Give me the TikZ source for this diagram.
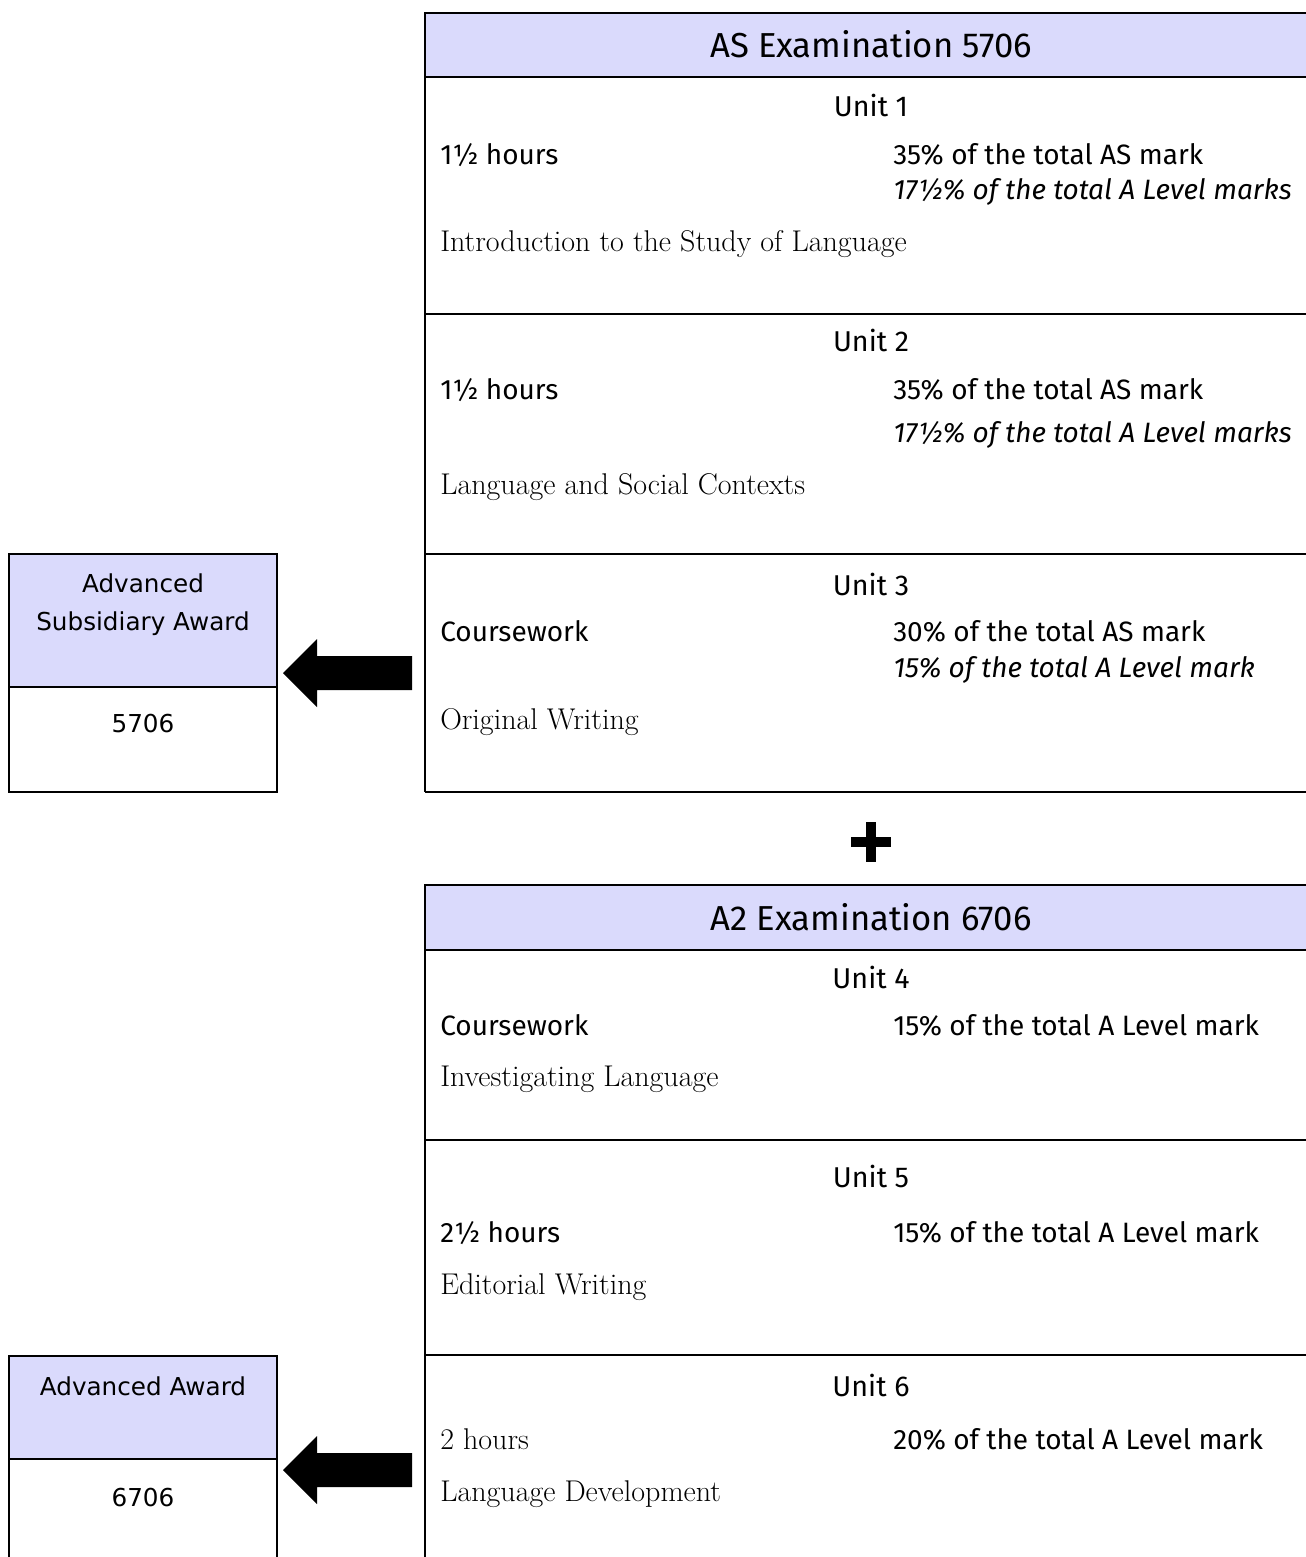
\documentclass[tikz,border=0pt]{standalone}
\usepackage{fontspec}
\setsansfont{Fira Sans}
\newfontfamily\awardfont{DejaVu Sans}
\definecolor{headblue}{RGB}{218,218,252}
\tikzset{
	rulebar/.style={line width=1.5pt},
	headtext/.style={font=\sffamily\fontsize{26}{30}\selectfont, anchor=base, inner sep=0pt},
	unitname/.style={font=\sffamily\fontsize{21.5}{25}\selectfont, anchor=base, inner sep=0pt},
	infotext/.style={font=\sffamily\fontsize{21}{25}\selectfont, anchor=base west, inner sep=0pt},
	leveltext/.style={infotext, font=\sffamily\itshape\fontsize{21}{25}\selectfont},
	titletext/.style={font=\rmfamily\fontsize{22.5}{26}\selectfont, anchor=base west, inner sep=0pt},
	awardtext/.style={font=\awardfont\fontsize{18.5}{22}\selectfont, anchor=base, inner sep=0pt},
	bigarrow/.pic={\fill (0,0) -- ++(34,-34) -- ++(0,17) -- ++(95,0) -- ++(0,34) -- ++(-95,0) -- ++(0,17) -- cycle;}
}
\begin{document}
\begin{tikzpicture}[x=0.75pt, y=-0.75pt]
	\useasboundingbox (0,0) rectangle (1306,1557);
	
	% AS examination
	\fill[headblue] (425,13) rectangle (1310,77);
	\draw[rulebar] (1310,13) -- (425,13) -- (425,792);
	\foreach \yy in {77,314,554,792}
		\draw[rulebar] (425,\yy) -- (1310,\yy);
	
	\node[headtext] (ashead) at (871,57) {AS Examination 5706};
	
	\node[unitname] (u1) at (871,116) {Unit 1};
	\node[infotext] (u1time) at (440,164) {1½ hours};
	\node[infotext] (u1as) at (893,164) {35\% of the total AS mark};
	\node[leveltext] (u1a) at (893,199) {17½\% of the total A Level marks};
	\node[titletext] (u1title) at (440,251) {Introduction to the Study of Language};
	
	\node[unitname] (u2) at (871,351) {Unit 2};
	\node[infotext] (u2time) at (440,399) {1½ hours};
	\node[infotext] (u2as) at (893,399) {35\% of the total AS mark};
	\node[leveltext] (u2a) at (893,442) {17½\% of the total A Level marks};
	\node[titletext] (u2title) at (440,494) {Language and Social Contexts};
	
	\node[unitname] (u3) at (871,595) {Unit 3};
	\node[infotext] (u3time) at (440,641) {Coursework};
	\node[infotext] (u3as) at (893,641) {30\% of the total AS mark};
	\node[leveltext] (u3a) at (893,677) {15\% of the total A Level mark};
	\node[titletext] (u3title) at (440,729) {Original Writing};
	
	% plus sign
	\draw[line width=7.5pt] (851,842) -- (891,842);
	\draw[line width=7.5pt] (871,822) -- (871,862);
	
	% A2 examination
	\fill[headblue] (425,885) rectangle (1310,950);
	\draw[rulebar] (1310,885) -- (425,885) -- (425,1560);
	\foreach \yy in {950,1140,1355}
		\draw[rulebar] (425,\yy) -- (1310,\yy);
	
	\node[headtext] (a2head) at (871,930) {A2 Examination 6706};
	
	\node[unitname] (u4) at (871,988) {Unit 4};
	\node[infotext] (u4time) at (440,1035) {Coursework};
	\node[infotext] (u4a) at (893,1035) {15\% of the total A Level mark};
	\node[titletext] (u4title) at (440,1086) {Investigating Language};
	
	\node[unitname] (u5) at (871,1187) {Unit 5};
	\node[infotext] (u5time) at (440,1242) {2½ hours};
	\node[infotext] (u5a) at (893,1242) {15\% of the total A Level mark};
	\node[titletext] (u5title) at (440,1294) {Editorial Writing};
	
	\node[unitname] (u6) at (871,1396) {Unit 6};
	\node[titletext] (u6time) at (440,1449) {2 hours};
	\node[infotext] (u6a) at (893,1449) {20\% of the total A Level mark};
	\node[titletext] (u6title) at (440,1501) {Language Development};
	
	% awards
	\draw[rulebar, fill=headblue] (9,554) rectangle (277,687);
	\draw[rulebar] (9,687) rectangle (277,792);
	\node[awardtext] (asaward) at (143,592) {Advanced};
	\node[awardtext] (asaward2) at (143,630) {Subsidiary Award};
	\node[awardtext] (ascode) at (143,732) {5706};
	
	\draw[rulebar, fill=headblue] (9,1356) rectangle (277,1459);
	\draw[rulebar] (9,1459) rectangle (277,1560);
	\node[awardtext] (a2award) at (143,1395) {Advanced Award};
	\node[awardtext] (a2code) at (143,1506) {6706};
	
	\pic at (283,673) {bigarrow};
	\pic at (283,1470) {bigarrow};
	
\end{tikzpicture}
\end{document}
